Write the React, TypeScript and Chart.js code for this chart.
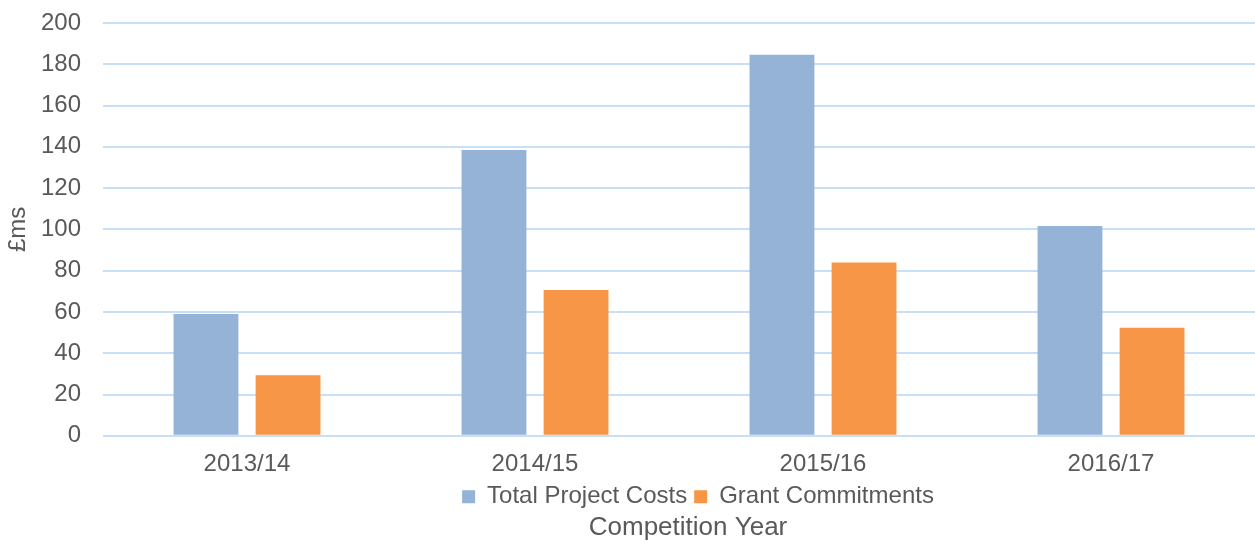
import React, { useEffect, useRef } from "react";
import { Chart, registerables } from "chart.js";

Chart.register(...registerables);

const categories = ["2013/14", "2014/15", "2015/16", "2016/17"];
const totalProjectCosts = [59, 138.5, 184.6, 101.7];
const grantCommitments = [29.3, 70.7, 84, 52.3];
const yTicksMax = 200;
const yTickStep = 20;

const FONT = "'Liberation Sans', Arial, sans-serif";
const TEXT = "#595959";

const shiftBottomBoxes = {
  id: "shiftBottomBoxes",
  afterLayout(chart: any) {
    if (chart.legend) {
      chart.legend.left += 19;
      chart.legend.right += 19;
    }
    if (chart.titleBlock) {
      chart.titleBlock.left += 9;
      chart.titleBlock.right += 9;
    }
  },
};

export default function App() {
  const ref = useRef<HTMLCanvasElement | null>(null);

  useEffect(() => {
    document.body.style.margin = "0";
    const ctx = ref.current!.getContext("2d")!;
    const chart = new Chart(ctx, {
      type: "bar",
      data: {
        labels: categories,
        datasets: [
          {
            label: "Total Project Costs",
            data: totalProjectCosts,
            backgroundColor: "#95B3D7",
            categoryPercentage: 0.57,
            barPercentage: 0.79,
          },
          {
            label: "Grant Commitments",
            data: grantCommitments,
            backgroundColor: "#F79646",
            categoryPercentage: 0.57,
            barPercentage: 0.79,
          },
        ],
      },
      plugins: [shiftBottomBoxes],
      options: {
        animation: false,
        responsive: false,
        maintainAspectRatio: false,
        layout: { padding: { left: 4, right: 0, top: 0, bottom: 0 } },
        scales: {
          x: {
            grid: { display: false, drawTicks: false },
            border: { display: false },
            ticks: {
              color: TEXT,
              font: { family: FONT, size: 24 },
              padding: 14,
            },
            afterFit: (scale: any) => {
              scale.height = 42;
            },
          },
          y: {
            min: 0,
            max: yTicksMax,
            ticks: {
              stepSize: yTickStep,
              color: TEXT,
              font: { family: FONT, size: 24 },
              padding: 22,
            },
            grid: { color: "#C7E0F8", lineWidth: 2, drawTicks: false },
            border: { display: false },
            title: {
              display: true,
              text: "£ms",
              color: TEXT,
              font: { family: FONT, size: 24 },
              padding: { top: 0, bottom: 0 },
            },
            afterFit: (scale: any) => {
              scale.width = 99;
              scale.paddingTop = 23;
              scale.paddingBottom = 0;
            },
          },
        },
        plugins: {
          legend: {
            position: "bottom",
            fullSize: false,
            labels: {
              color: TEXT,
              font: { family: FONT, size: 24 },
              boxWidth: 13,
              boxHeight: 13,
              padding: 7,
            },
          },
          title: {
            display: true,
            position: "bottom",
            fullSize: false,
            text: "Competition Year",
            color: TEXT,
            font: { family: FONT, size: 26, weight: "normal", lineHeight: 0.7 },
            padding: { top: 0, bottom: 5 },
          },
          tooltip: { enabled: false },
        },
      },
    });
    return () => chart.destroy();
  }, []);

  return (
    <div style={{ width: 1255, height: 542 }}>
      <canvas ref={ref} width={1255} height={542} />
    </div>
  );
}
